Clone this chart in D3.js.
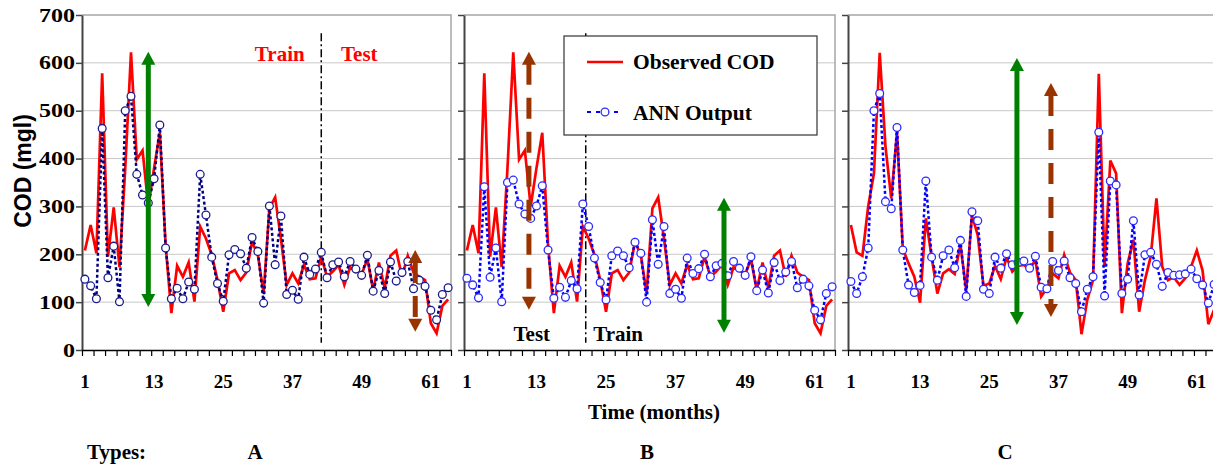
<!DOCTYPE html>
<html lang="en">
<head>
<meta charset="UTF-8">
<title>Observed COD vs ANN output</title>
<script src="https://d3js.org/d3.v7.min.js"></script>
<style>
  body { margin: 0; background: white; }
  svg { display: block; background: white; }
  .serif { font-family: 'Liberation Serif', 'Times New Roman', serif; font-weight: bold; }
</style>
</head>
<body>
<svg width="1213" height="465"></svg>
<script>
// ---- data ----
const yTicks = [0, 100, 200, 300, 400, 500, 600, 700];
const xLabels = [1, 13, 25, 37, 49, 61];
const nMonths = 64;

const observedAB = [208,261,202,578,195,298,173,380,622,398,417,300,380,454,220,77,176,153,183,101,
  258,233,199,146,80,160,167,146,162,226,199,118,296,319,233,136,160,139,178,148,
  150,195,153,164,178,136,173,167,158,190,125,183,129,197,208,153,197,162,153,146,
  56,35,92,106];
const annA = [148,134,107,463,151,217,101,500,530,367,324,307,358,470,213,107,129,107,142,127,
  367,282,194,139,102,199,210,201,171,235,206,98,301,178,280,116,125,106,194,158,
  169,204,151,178,184,153,185,169,156,198,123,166,118,184,144,162,185,128,146,133,
  83,63,116,130];
const annB = [150,136,109,341,152,213,101,350,355,305,284,275,301,343,209,108,131,110,145,128,
  305,258,192,141,105,197,207,197,172,225,202,100,272,179,258,118,127,108,192,160,
  170,200,153,176,181,155,185,171,156,195,124,167,119,183,145,163,185,130,148,134,
  83,63,118,132];
const observedC = [261,204,197,300,369,621,425,317,455,212,181,153,99,275,195,118,160,169,159,220,
  125,282,240,134,139,176,148,194,164,176,178,169,188,112,129,160,150,199,162,146,
  33,105,146,577,174,396,369,77,181,230,80,146,195,317,174,146,152,136,150,174,
  208,166,54,84];
const annC = [143,118,153,213,500,536,310,295,465,209,136,120,135,353,194,146,197,209,172,229,
  112,289,270,127,118,194,171,201,178,183,186,171,196,131,128,185,166,186,151,139,
  80,127,153,455,113,353,345,118,148,270,115,199,204,179,133,162,156,157,159,169,
  149,136,98,137];

const typeLabels = ["A", "B", "C"];

// arrows: x in month units, top / bottom in COD units
const arrowsA = [
  {x: 11.5, top: 623, bottom: 90, kind: "green"},
  {x: 57.8, top: 209, bottom: 38, kind: "brown"}
];
const arrowsB = [
  {x: 11.2, top: 623, bottom: 84, kind: "brown"},
  {x: 44.85, top: 318, bottom: 36, kind: "green"}
];
const arrowsC = [
  {x: 29.3, top: 610, bottom: 52, kind: "green"},
  {x: 35.2, top: 558, bottom: 69, kind: "brown"}
];

// ---- layout ----
const svg = d3.select("svg");
const y = d3.scaleLinear().domain([0, 700]).range([350, 15]);

const panels = [
  {left: 82, width: 369, obs: observedAB, ann: annA, annColor: "#000080", split: 41.5, arrows: arrowsA, labels: true},
  {left: 464, width: 371, obs: observedAB, ann: annB, annColor: "#0000ff", split: 21, arrows: arrowsB, labels: false},
  {left: 848, width: 369, obs: observedC, ann: annC, annColor: "#0000ff", split: null, arrows: arrowsC, labels: false}
];

const arrowColor = {green: "#008000", brown: "#993300"};

panels.forEach((p, pi) => {
  const x = d3.scaleLinear().domain([0, nMonths]).range([p.left, p.left + p.width]);
  p.x = x;
  const g = svg.append("g");

  // gridlines
  g.selectAll(".grid")
    .data(yTicks.filter(v => v > 0 && v < 700))
    .join("line")
    .attr("x1", x(0)).attr("x2", x(nMonths))
    .attr("y1", d => y(d)).attr("y2", d => y(d))
    .attr("stroke", "#c8c8c8").attr("stroke-width", 1);

  // top / right frame
  g.append("path")
    .attr("d", `M${x(0)},${y(700)}H${x(nMonths)}V${y(0)}`)
    .attr("fill", "none").attr("stroke", "#a6a6a6").attr("stroke-width", 1.5);

  // y axis
  const ya = g.append("g")
    .attr("transform", `translate(${x(0)},0)`)
    .call(d3.axisLeft(y).tickValues(yTicks).tickSize(6).tickSizeOuter(0).tickPadding(1)
      .tickFormat(p.labels ? d3.format("d") : ""));
  ya.select(".domain").attr("stroke", "#444").attr("stroke-width", 2);
  ya.selectAll(".tick line").attr("stroke", "#444").attr("stroke-width", 1.5);
  ya.selectAll(".tick text")
    .attr("class", "serif")
    .style("font-size", "19px")
    .attr("fill", "#000")
    .attr("textLength", d => String(d).length * 12)
    .attr("lengthAdjust", "spacingAndGlyphs");

  // x axis
  const xa = g.append("g")
    .attr("transform", `translate(0,${y(0)})`)
    .call(d3.axisBottom(x).tickValues(d3.range(0, nMonths + 1, 2)).tickSize(6).tickSizeOuter(0).tickFormat(""));
  xa.select(".domain").attr("stroke", "#000").attr("stroke-width", 1.5);
  xa.selectAll(".tick line").attr("stroke", "#000").attr("stroke-width", 1.2);

  g.selectAll(".xlab")
    .data(xLabels)
    .join("text")
    .attr("class", "serif")
    .attr("x", d => x(d - 0.5))
    .attr("y", 388)
    .attr("text-anchor", "middle")
    .style("font-size", "19px")
    .text(d => d);

  // train / test split
  if (p.split !== null) {
    g.append("line")
      .attr("x1", x(p.split)).attr("x2", x(p.split))
      .attr("y1", y(662)).attr("y2", y(15))
      .attr("stroke", "#000").attr("stroke-width", 1.5)
      .attr("stroke-dasharray", "8,3,2,3");
  }

  const line = d3.line().x((d, i) => x(i + 0.5)).y(d => y(d));

  g.append("path")
    .datum(p.obs)
    .attr("fill", "none")
    .attr("stroke", "#ff0000")
    .attr("stroke-width", 2.7)
    .attr("stroke-linejoin", "miter")
    .attr("d", line);

  g.append("path")
    .datum(p.ann)
    .attr("fill", "none")
    .attr("stroke", p.annColor)
    .attr("stroke-width", 2.5)
    .attr("stroke-dasharray", "3,2.5")
    .attr("d", line);

  g.selectAll(".pt")
    .data(p.ann)
    .join("circle")
    .attr("cx", (d, i) => x(i + 0.5))
    .attr("cy", d => y(d))
    .attr("r", 3.9)
    .attr("fill", "white")
    .attr("stroke", pi === 0 ? "#1a1a8c" : "#2b2bff")
    .attr("stroke-width", 1.3);

  // arrows
  p.arrows.forEach(a => {
    const ax = x(a.x), yt = y(a.top), yb = y(a.bottom);
    const col = arrowColor[a.kind];
    const hw = 7, hh = 13;
    g.append("line")
      .attr("x1", ax).attr("x2", ax)
      .attr("y1", yt + hh - 1).attr("y2", yb - hh + 1)
      .attr("stroke", col).attr("stroke-width", 5)
      .attr("stroke-dasharray", a.kind === "brown" ? "21,13" : null);
    g.append("path")
      .attr("d", `M${ax},${yt}L${ax - hw},${yt + hh}L${ax + hw},${yt + hh}Z`)
      .attr("fill", col);
    g.append("path")
      .attr("d", `M${ax},${yb}L${ax - hw},${yb - hh}L${ax + hw},${yb - hh}Z`)
      .attr("fill", col);
  });
});

// text annotations
const pA = panels[0], pB = panels[1];
svg.append("text").attr("class", "serif")
  .attr("x", pA.x(34.3)).attr("y", y(603)).attr("text-anchor", "middle")
  .attr("fill", "#ff0000").style("font-size", "21px").text("Train");
svg.append("text").attr("class", "serif")
  .attr("x", pA.x(48.1)).attr("y", y(603)).attr("text-anchor", "middle")
  .attr("fill", "#ff0000").style("font-size", "21px").text("Test");
svg.append("text").attr("class", "serif")
  .attr("x", pB.x(11.7)).attr("y", y(19)).attr("text-anchor", "middle")
  .style("font-size", "21px").text("Test");
svg.append("text").attr("class", "serif")
  .attr("x", pB.x(22.3)).attr("y", y(19)).attr("text-anchor", "start")
  .style("font-size", "21px").text("Train");

// legend in panel B
const legend = svg.append("g");
legend.append("rect")
  .attr("x", 564).attr("y", 36).attr("width", 253).attr("height", 99)
  .attr("fill", "white").attr("stroke", "#333").attr("stroke-width", 1.2);
legend.append("line")
  .attr("x1", 587).attr("x2", 623).attr("y1", 62).attr("y2", 62)
  .attr("stroke", "#ff0000").attr("stroke-width", 2.5);
legend.append("text").attr("class", "serif")
  .attr("x", 633).attr("y", 69).style("font-size", "21.5px").text("Observed COD");
legend.append("line")
  .attr("x1", 587).attr("x2", 623).attr("y1", 112).attr("y2", 112)
  .attr("stroke", "#0000ff").attr("stroke-width", 2).attr("stroke-dasharray", "4,5");
legend.append("circle")
  .attr("cx", 605).attr("cy", 112).attr("r", 3.9)
  .attr("fill", "white").attr("stroke", "#2b2bff").attr("stroke-width", 1.3);
legend.append("text").attr("class", "serif")
  .attr("x", 633).attr("y", 120).style("font-size", "21.5px").text("ANN Output");

// axis titles
svg.append("text")
  .attr("transform", "translate(31,171) rotate(-90)")
  .attr("text-anchor", "middle")
  .style("font-family", "'Liberation Sans', Arial, sans-serif")
  .style("font-weight", "bold")
  .style("font-size", "23px")
  .text("COD (mgl)");

svg.append("text").attr("class", "serif")
  .attr("x", 654).attr("y", 419).attr("text-anchor", "middle")
  .style("font-size", "21px").text("Time (months)");

svg.append("text").attr("class", "serif")
  .attr("x", 87).attr("y", 459).style("font-size", "21px").text("Types:");

const typeX = [255, 647, 1005];
svg.selectAll(".type")
  .data(typeLabels)
  .join("text")
  .attr("class", "serif")
  .attr("x", (d, i) => typeX[i])
  .attr("y", 459)
  .attr("text-anchor", "middle")
  .style("font-size", "21px")
  .text(d => d);
</script>
</body>
</html>
